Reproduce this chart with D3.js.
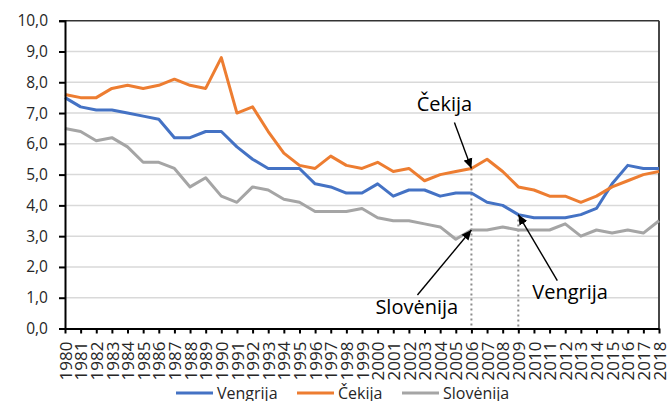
<!DOCTYPE html>
<html>
<head>
<meta charset="utf-8">
<script src="https://cdn.jsdelivr.net/npm/d3@7"></script>
<style>
  html, body { margin: 0; padding: 0; background: #fff; }
  svg { display: block; font-family: "Open Sans", sans-serif; }
</style>
</head>
<body>
<svg id="chart" width="668" height="401"></svg>
<script>
const years = d3.range(1980, 2019);
const yTicks = [0, 1, 2, 3, 4, 5, 6, 7, 8, 9, 10];
const seriesNames = ["Vengrija", "Čekija", "Slovėnija"];
const vengrija = [7.5, 7.2, 7.1, 7.1, 7.0, 6.9, 6.8, 6.2, 6.2, 6.4, 6.4, 5.9, 5.5, 5.2, 5.2, 5.2, 4.7, 4.6, 4.4, 4.4,
                  4.7, 4.3, 4.5, 4.5, 4.3, 4.4, 4.4, 4.1, 4.0, 3.7, 3.6, 3.6, 3.6, 3.7, 3.9, 4.7, 5.3, 5.2, 5.2];
const cekija   = [7.6, 7.5, 7.5, 7.8, 7.9, 7.8, 7.9, 8.1, 7.9, 7.8, 8.8, 7.0, 7.2, 6.4, 5.7, 5.3, 5.2, 5.6, 5.3, 5.2,
                  5.4, 5.1, 5.2, 4.8, 5.0, 5.1, 5.2, 5.5, 5.1, 4.6, 4.5, 4.3, 4.3, 4.1, 4.3, 4.6, 4.8, 5.0, 5.1];
const slovenija= [6.5, 6.4, 6.1, 6.2, 5.9, 5.4, 5.4, 5.2, 4.6, 4.9, 4.3, 4.1, 4.6, 4.5, 4.2, 4.1, 3.8, 3.8, 3.8, 3.9,
                  3.6, 3.5, 3.5, 3.4, 3.3, 2.9, 3.2, 3.2, 3.3, 3.2, 3.2, 3.2, 3.4, 3.0, 3.2, 3.1, 3.2, 3.1, 3.5];
const colors = ["#4472C4", "#ED7D31", "#A5A5A5"];
const seriesValues = [vengrija, cekija, slovenija];

// annotations: label, series index, year
const annotations = [
  { label: "Čekija", series: 1, year: 2006, tail: [-17, -46], text: [-27, -57], anchor: "middle", dotted: true },
  { label: "Slovėnija", series: 2, year: 2006, tail: [-54, 65], text: [-96, 84], anchor: "start", dotted: false },
  { label: "Vengrija", series: 0, year: 2009, tail: [39, 66], text: [14, 84], anchor: "start", dotted: true }
];

const svg = d3.select("#chart");
const margin = { left: 65, top: 20.7, right: 9, bottom: 72.5 };
const W = 668, H = 401;
const x = d3.scaleLinear().domain([1980, 2018]).range([margin.left, W - margin.right]);
const y = d3.scaleLinear().domain([0, 10]).range([H - margin.bottom, margin.top]);
const fmt = v => d3.format(".1f")(v).replace(".", ",");

// gridlines
svg.append("g").selectAll("line").data(yTicks.filter(t => t > 0 && t < 10)).join("line")
  .attr("x1", x(1980)).attr("x2", x(2018))
  .attr("y1", d => y(d)).attr("y2", d => y(d))
  .attr("stroke", "#D9D9D9").attr("stroke-width", 1.5);

// top and right border
svg.append("line").attr("x1", x(1980)).attr("x2", x(2018)).attr("y1", y(10)).attr("y2", y(10))
  .attr("stroke", "#333").attr("stroke-width", 1.5);
svg.append("line").attr("x1", x(2018)).attr("x2", x(2018)).attr("y1", y(10)).attr("y2", y(0))
  .attr("stroke", "#333").attr("stroke-width", 1.8);

// dotted lines
annotations.filter(a => a.dotted).forEach(a => {
  const v = seriesValues[a.series][years.indexOf(a.year)];
  svg.append("line").attr("x1", x(a.year)).attr("x2", x(a.year))
    .attr("y1", y(v)).attr("y2", y(0))
    .attr("stroke", "#8C8C8C").attr("stroke-width", 2).attr("stroke-dasharray", "2,3");
});

// series lines
const line = d3.line().x((d, i) => x(years[i])).y(d => y(d));
seriesValues.forEach((vals, k) => {
  svg.append("path").datum(vals).attr("d", line)
    .attr("fill", "none").attr("stroke", colors[k]).attr("stroke-width", 3)
    .attr("stroke-linejoin", "round");
});

// y axis
const yAxis = d3.axisLeft(y).tickValues(yTicks).tickFormat(fmt).tickSize(6).tickPadding(11);
const gy = svg.append("g").attr("transform", `translate(${x(1980)},0)`).call(yAxis);
gy.select(".domain").attr("stroke", "#000").attr("stroke-width", 2);
gy.selectAll(".tick line").attr("stroke", "#000").attr("stroke-width", 2);
gy.selectAll("text").attr("font-family", "Open Sans").attr("font-size", 15.5).attr("fill", "#262626");

// x axis
const xAxis = d3.axisBottom(x).tickValues(years).tickFormat(d => String(d)).tickSize(5).tickSizeOuter(0);
const gx = svg.append("g").attr("transform", `translate(0,${y(0)})`).call(xAxis);
gx.select(".domain").attr("stroke", "#000").attr("stroke-width", 2);
gx.selectAll(".tick line").attr("stroke", "#000").attr("stroke-width", 2);
gx.selectAll("text")
  .attr("font-family", "Open Sans").attr("font-size", 17).attr("fill", "#262626")
  .attr("transform", "translate(0,13) rotate(-90)")
  .attr("x", 0).attr("y", 0).attr("dy", "0.36em")
  .attr("text-anchor", "end");

// arrow marker
svg.append("defs").append("marker")
  .attr("id", "arrow").attr("viewBox", "0 0 10 10").attr("refX", 10).attr("refY", 5)
  .attr("markerWidth", 10).attr("markerHeight", 10).attr("markerUnits", "userSpaceOnUse")
  .attr("orient", "auto")
  .append("path").attr("d", "M0,0.5 L10,5 L0,9.5 Z").attr("fill", "#000");

annotations.forEach(a => {
  const v = seriesValues[a.series][years.indexOf(a.year)];
  const px = x(a.year), py = y(v);
  svg.append("line")
    .attr("x1", px + a.tail[0]).attr("y1", py + a.tail[1])
    .attr("x2", px).attr("y2", py)
    .attr("stroke", "#000").attr("stroke-width", 1.4)
    .attr("marker-end", "url(#arrow)");
  svg.append("text")
    .attr("x", px + a.text[0]).attr("y", py + a.text[1])
    .attr("text-anchor", a.anchor)
    .attr("font-size", 20).attr("fill", "#000")
    .text(a.label);
});

// legend
const legendX = [176, 297, 402];
const lg = svg.append("g");
seriesNames.forEach((name, k) => {
  lg.append("line").attr("x1", legendX[k]).attr("x2", legendX[k] + 37)
    .attr("y1", 393).attr("y2", 393).attr("stroke", colors[k]).attr("stroke-width", 3);
  lg.append("text").attr("x", legendX[k] + 41).attr("y", 399)
    .attr("font-size", 16).attr("fill", "#262626").text(name);
});
</script>
</body>
</html>
